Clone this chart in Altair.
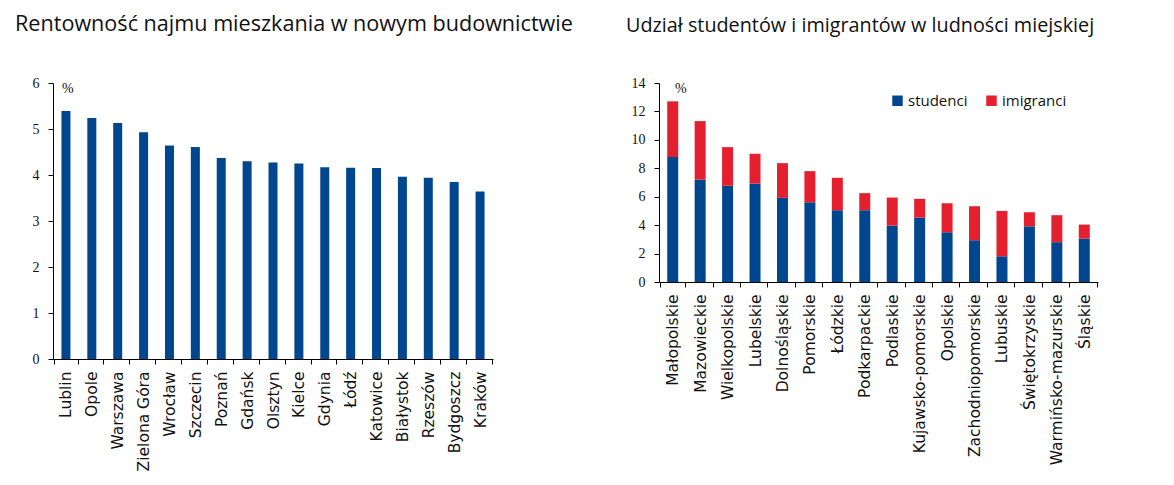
import altair as alt
import pandas as pd

cities = ["Lublin", "Opole", "Warszawa", "Zielona Góra", "Wrocław", "Szczecin", "Poznań",
          "Gdańsk", "Olsztyn", "Kielce", "Gdynia", "Łódź", "Katowice", "Białystok",
          "Rzeszów", "Bydgoszcz", "Kraków"]
rent_yield = [5.39, 5.24, 5.13, 4.93, 4.64, 4.61, 4.37, 4.30, 4.27, 4.25, 4.17, 4.16,
              4.15, 3.96, 3.94, 3.85, 3.64]

regions = ["Małopolskie", "Mazowieckie", "Wielkopolskie", "Lubelskie", "Dolnośląskie",
           "Pomorskie", "Łódzkie", "Podkarpackie", "Podlaskie", "Kujawsko-pomorskie",
           "Opolskie", "Zachodniopomorskie", "Lubuskie", "Świętokrzyskie",
           "Warmińsko-mazurskie", "Śląskie"]
studenci = [8.79, 7.21, 6.77, 6.93, 5.92, 5.61, 5.05, 5.05, 3.97, 4.53, 3.50, 2.94,
            1.81, 3.92, 2.80, 3.05]
imigranci = [3.92, 4.11, 2.72, 2.09, 2.44, 2.19, 2.28, 1.20, 1.97, 1.32, 2.04, 2.39,
             3.19, 0.99, 1.90, 0.99]
series = ["studenci", "imigranci"]

BLUE = "#00468F"
RED = "#E5202E"
TITLE_FONT = "Open Sans"
LABEL_FONT = "DejaVu Sans"
LEGEND_FONT = "Open Sans"
NUM_FONT = "Liberation Sans Narrow"

df_left = pd.DataFrame({"miasto": cities, "wartosc": rent_yield})
rows = []
for i, r in enumerate(regions):
    rows.append({"region": r, "seria": series[0], "wartosc": studenci[i], "kol": 0})
    rows.append({"region": r, "seria": series[1], "wartosc": imigranci[i], "kol": 1})
df_right = pd.DataFrame(rows)
pct = pd.DataFrame({"t": ["%"]})

x_axis = dict(title=None, labelAngle=-90, tickBand="extent", labelFont=LABEL_FONT,
              labelFontSize=15.5, labelPadding=7, tickSize=5, domainColor="black",
              tickColor="black", labelColor="#111111")
y_axis_common = dict(title=None, grid=False, labelFont=NUM_FONT, labelFontSize=14,
                     tickSize=5, labelPadding=9, domainColor="black", tickColor="black",
                     labelColor="#111111")

left_bars = alt.Chart(df_left).mark_bar(color=BLUE, size=9).encode(
    x=alt.X("miasto:N", sort=cities, axis=alt.Axis(**x_axis)),
    y=alt.Y("wartosc:Q", scale=alt.Scale(domain=[0, 6], nice=False),
            axis=alt.Axis(values=[0, 1, 2, 3, 4, 5, 6], **y_axis_common)),
)
left_pct = alt.Chart(pct).mark_text(font=NUM_FONT, fontSize=14, align="left",
                                    baseline="top", color="#111111").encode(
    text="t:N", x=alt.value(9), y=alt.value(-1))
left = alt.layer(left_bars, left_pct).properties(
    width=440, height=276,
    title=alt.TitleParams("Rentowność najmu mieszkania w nowym budownictwie",
                          anchor="start", frame="group", dx=-38, offset=40,
                          font=TITLE_FONT, fontSize=21.6, fontWeight="normal",
                          color="#111111"))

right_bars = alt.Chart(df_right).mark_bar(size=11).encode(
    x=alt.X("region:N", sort=regions, axis=alt.Axis(**x_axis)),
    y=alt.Y("sum(wartosc):Q", scale=alt.Scale(domain=[0, 14], nice=False),
            axis=alt.Axis(values=[0, 2, 4, 6, 8, 10, 12, 14], **y_axis_common)),
    color=alt.Color("seria:N", sort=series,
                    scale=alt.Scale(domain=series, range=[BLUE, RED]),
                    legend=alt.Legend(title=None, orient="none", legendX=837, legendY=10,
                                      direction="horizontal", symbolType="square",
                                      symbolSize=110, symbolStrokeWidth=0,
                                      labelFont=LEGEND_FONT, labelFontSize=15,
                                      labelOffset=3, columnPadding=16,
                                      labelColor="#111111")),
    order=alt.Order("kol:Q", sort="ascending"),
)
right_pct = alt.Chart(pct).mark_text(font=NUM_FONT, fontSize=14, align="left",
                                     baseline="top", color="#111111").encode(
    text="t:N", x=alt.value(16), y=alt.value(-1))
right = alt.layer(right_bars, right_pct).properties(
    width=439, height=199,
    title=alt.TitleParams("Udział studentów i imigrantów w ludności miejskiej",
                          anchor="start", frame="group", dx=-33, offset=40,
                          font=TITLE_FONT, fontSize=19.8, fontWeight="normal",
                          color="#111111"))

chart = alt.hconcat(left, right, spacing=53).properties(
    padding={"left": 7, "top": 6, "right": 5, "bottom": 5}
).configure_view(stroke=None)

chart.save("out.html", embed_options={"renderer": "svg", "actions": False})
